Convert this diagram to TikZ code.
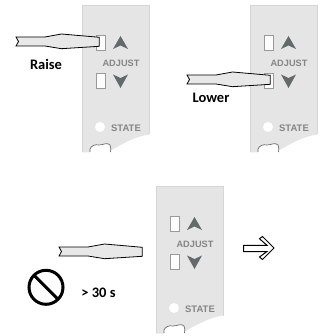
\documentclass[tikz,border=0pt]{standalone}
\usepackage{fontspec}
\setmainfont{Liberation Sans}
\newfontfamily\calib{Carlito}
\definecolor{panelfill}{HTML}{E5E5E5}
\definecolor{paneledge}{HTML}{D6D6D6}
\definecolor{slotedge}{HTML}{9A9A9A}
\definecolor{glyph}{HTML}{626B69}
\definecolor{labelgrey}{HTML}{858585}
\definecolor{driver}{HTML}{E8E8E8}
\tikzset{
  panelbody/.style={fill=panelfill,draw=none},
  paneltrim/.style={draw=paneledge,line width=0.9pt},
  slotbox/.style={draw=slotedge,fill=white!60!panelfill!20!white,line width=0.9pt},
  arrowglyph/.style={fill=glyph,draw=none},
  paneltext/.style={font=\bfseries\fontsize{9.2}{10}\selectfont,text=labelgrey,inner sep=0pt},
  calltext/.style={font=\calib\bfseries\fontsize{14.5}{16}\selectfont,text=black,inner sep=0pt},
  driverbody/.style={fill=driver,draw=black,line width=0.8pt,line join=miter},
  pics/controlpanel/.style={code={
    \path[panelbody] (82,5) -- (149.5,5) -- (149.5,134.5) .. controls (136,136) and (122,144) .. (110,151) -- (112,152.5) -- (82,152.5) -- cycle;
    \draw[paneltrim] (82,152) -- (82,5) -- (149.5,5) -- (149.5,134.5);
    \draw[slotbox] (96,35.6) rectangle (105.5,50.6);
    \draw[slotbox] (96,73) rectangle (105.5,88);
    \path[arrowglyph] (113,49) -- (120.5,36) -- (128,49) -- (120.5,45.5) -- cycle;
    \path[arrowglyph] (113,74.5) -- (120.5,78) -- (128,74.5) -- (120.5,88) -- cycle;
    \fill[white] (100,127) circle (5);
    \path[fill=white] (90,153) -- (90,149) .. controls (91,146) and (95,144) .. (99,145) .. controls (103,145) and (107,142) .. (110,145) .. controls (111,147) and (111,150) .. (111,153) -- cycle;
    \draw[slotedge!70!black,line width=0.7pt] (90,152) -- (90,149) .. controls (91,146) and (95,144) .. (99,145) .. controls (103,145) and (107,142) .. (110,145) .. controls (111,147) and (111,149) .. (110.5,152);
    \node[paneltext] (-adjust) at (121,63.3) {ADJUST};
    \node[paneltext,font=\bfseries\fontsize{9.5}{10}\selectfont] (-state) at (126,128) {STATE};
  }},
  pics/screwdriver/.style={code={
    \draw[driverbody] (16,37) -- (45,37) -- (61.5,34) -- (99.3,37.3) -- (99.3,46.3) -- (61.5,48.7) -- (45,46) -- (16,46) -- (18.5,41.5) -- cycle;
  }}
}
\begin{document}
\begin{tikzpicture}[x=1pt,y=-1pt]
\useasboundingbox (0,0) rectangle (326,336);
\pic (pa) at (0,0) {controlpanel};
\pic (pb) at (168,0) {controlpanel};
\pic (pc) at (74,181) {controlpanel};
\pic (da) at (0,0) {screwdriver};
\pic (db) at (171,38) {screwdriver};
\pic (dc) at (43,210) {screwdriver};
\node[calltext] (raise) at (46,64.5) {Raise};
\node[calltext] (lower) at (211,98) {Lower};
\node[calltext] (time) at (98.5,293) {> 30 s};
\draw[line width=3pt] (46,287.3) circle (17);
\draw[line width=3pt] (34,275.3) -- (58,299.3);
\draw[fill=white,line width=1pt,line join=miter] (243.5,245.3) -- (267,245.3) -- (259.5,238.8) -- (262.5,236.5) -- (274,248) -- (262.5,259.5) -- (259.5,257) -- (267,251.5) -- (243.5,251.5) -- cycle;
\end{tikzpicture}
\end{document}
